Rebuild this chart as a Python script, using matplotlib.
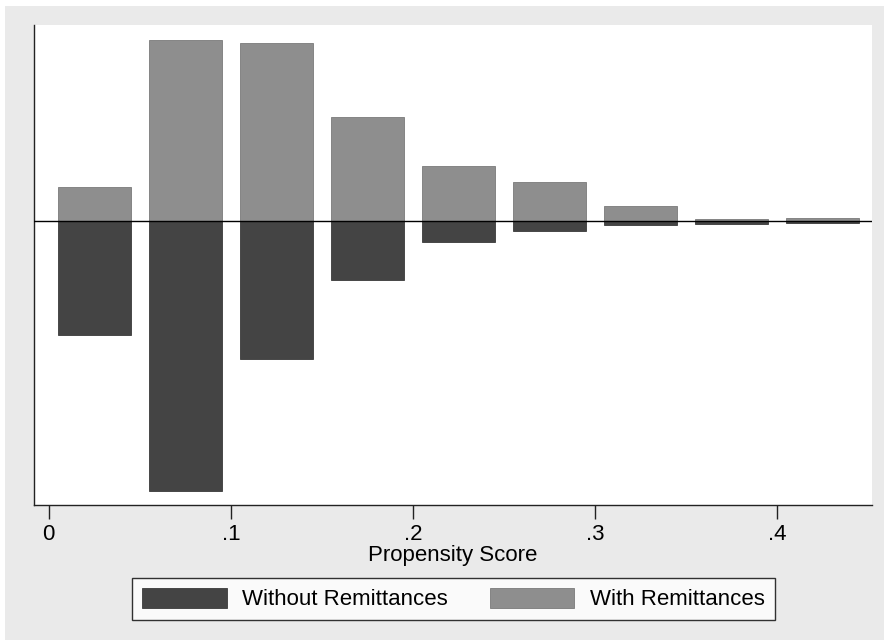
import matplotlib.pyplot as plt
from matplotlib.patches import Rectangle, Patch

# propensity score bins (bar centres) and counts
bin_centres = [0.025, 0.075, 0.125, 0.175, 0.225, 0.275, 0.325, 0.375, 0.425]
with_remit = [34, 181, 178, 104, 55, 39, 15, 2, 3]
without_remit = [114, 270, 138, 59, 21, 10, 3.5, 2.5, 1.5]
tick_pos = [0, 0.1, 0.2, 0.3, 0.4]
tick_lab = ['0', '.1', '.2', '.3', '.4']

dark = '#444444'
light = '#8e8e8e'

plt.rcParams['font.family'] = ['Liberation Sans', 'DejaVu Sans']

fig = plt.figure(figsize=(8.84, 6.41), dpi=100, facecolor='white')
W, H = 884, 641
fig.patches.append(Rectangle((5 / W, 1 - 640 / H), 879 / W, 634 / H,
                             transform=fig.transFigure, facecolor='#eaeaea',
                             edgecolor='none', zorder=-10))

ax = fig.add_axes([34 / W, 1 - 505 / H, 838 / W, 480 / H])
ax.set_facecolor('white')

ax.bar(bin_centres, with_remit, width=0.04, color=light, edgecolor='#7a7a7a',
       linewidth=0.6, label='With Remittances', zorder=2)
ax.bar(bin_centres, [-v for v in without_remit], width=0.04, color=dark,
       edgecolor='#3a3a3a', linewidth=0.6, label='Without Remittances', zorder=2)
ax.axhline(0, color='black', linewidth=1, zorder=3)

ax.set_xlim(-0.0081, 0.452)
ax.set_ylim(-284, 196)
ax.set_yticks([])
ax.set_xticks(tick_pos)
ax.set_xticklabels(tick_lab, fontsize=16)
ax.tick_params(axis='x', length=10, width=1, color='#222222', pad=4)
ax.set_xlabel('Propensity Score', fontsize=16, labelpad=0)

for s in ['top', 'right']:
    ax.spines[s].set_visible(False)
for s in ['left', 'bottom']:
    ax.spines[s].set_color('#222222')
    ax.spines[s].set_linewidth(1)

handles = [Patch(facecolor=dark, edgecolor='#3a3a3a', linewidth=0.6),
           Patch(facecolor=light, edgecolor='#7a7a7a', linewidth=0.6)]
leg = fig.legend(handles, ['Without Remittances', 'With Remittances'],
                 loc='center', bbox_to_anchor=(453.5 / W, 1 - 599 / H),
                 ncol=2, fontsize=16, frameon=True, fancybox=False,
                 edgecolor='black', handlelength=3.8, handleheight=1.05,
                 handletextpad=0.7, columnspacing=1.9, borderpad=0.45,
                 borderaxespad=0)
leg.get_frame().set_linewidth(1)

fig.savefig('out.png', dpi=100, facecolor=fig.get_facecolor())
